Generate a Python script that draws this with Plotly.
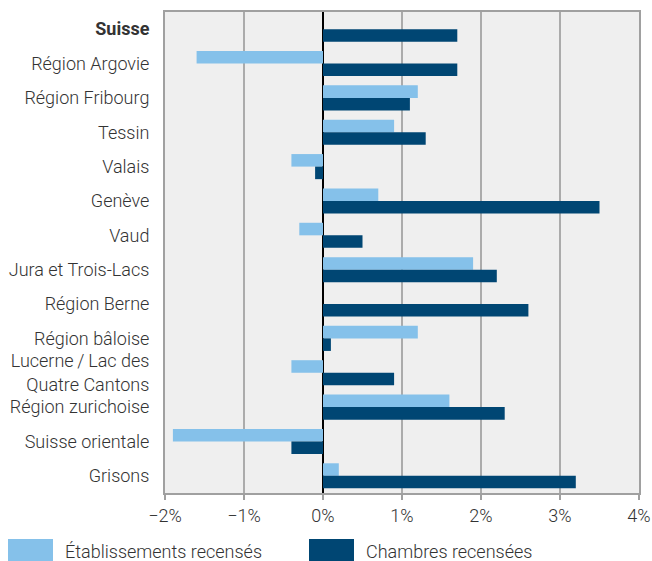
import plotly.graph_objects as go

categories = ["<b>Suisse</b>", "Région Argovie", "Région Fribourg", "Tessin", "Valais", "Genève", "Vaud",
              "Jura et Trois-Lacs", "Région Berne", "Région bâloise", "Lucerne\u2009/\u2009Lac des<br>Quatre Cantons",
              "Région zurichoise", "Suisse orientale", "Grisons"]
etablissements = [0.0, -1.6, 1.2, 0.9, -0.4, 0.7, -0.3, 1.9, 0.0, 1.2, -0.4, 1.6, -1.9, 0.2]
chambres = [1.7, 1.7, 1.1, 1.3, -0.1, 3.5, 0.5, 2.2, 2.6, 0.1, 0.9, 2.3, -0.4, 3.2]
tick_vals = [-2, -1, 0, 1, 2, 3, 4]
tick_text = ["−2%", "−1%", "0%", "1%", "2%", "3%", "4%"]
series_names = ["Établissements recensés", "Chambres recensées"]
colors = ["#85C1EA", "#004673"]

font_family = "Roboto"
text_color = "#333333"
FS = 18

W, H = 652, 561
ML, MR, MT, MB = 165, 13, 12, 68
PW, PH = W - ML - MR, H - MT - MB

fig = go.Figure()
fig.add_trace(go.Bar(y=categories, x=etablissements, orientation="h", name=series_names[0],
                     marker=dict(color=colors[0], line=dict(width=0))))
fig.add_trace(go.Bar(y=categories, x=chambres, orientation="h", name=series_names[1],
                     marker=dict(color=colors[1], line=dict(width=0))))

fig.update_layout(
    width=W, height=H,
    margin=dict(l=ML, r=MR, t=MT, b=MB, autoexpand=False),
    paper_bgcolor="white", plot_bgcolor="#EFEFEF",
    barmode="group", bargap=0.27, bargroupgap=0,
    showlegend=False,
    font=dict(family=font_family, size=FS, color=text_color, weight=300),
)
fig.update_xaxes(range=[-2, 4], tickvals=tick_vals, ticktext=tick_text, automargin=False,
                 showgrid=True, gridcolor="#ABABAB", gridwidth=2,
                 zeroline=True, zerolinecolor="#000000", zerolinewidth=2,
                 showline=True, linecolor="#A0A0A0", linewidth=2, mirror=True,
                 ticks="outside", ticklen=5, tickcolor="#A0A0A0", tickwidth=2,
                 tickfont=dict(size=FS, color=text_color))
fig.update_yaxes(autorange="reversed", showgrid=False, zeroline=False, automargin=False,
                 showline=True, linecolor="#A0A0A0", linewidth=2, mirror=True,
                 ticks="", ticklabelstandoff=10,
                 tickfont=dict(size=FS, color=text_color))

# custom legend with large swatches (pixel positions converted to paper coordinates)
legend_x = [8, 309]
for lx, name, col in zip(legend_x, series_names, colors):
    fig.add_shape(type="rect", xref="paper", yref="paper",
                  x0=(lx - ML) / PW, x1=(lx + 45 - ML) / PW,
                  y0=(H - MB - 539) / PH, y1=(H - MB - 562) / PH,
                  line=dict(width=0), fillcolor=col)
    fig.add_annotation(xref="paper", yref="paper", x=(lx + 55 - ML) / PW, y=(H - MB - 551) / PH,
                       text=name, showarrow=False, xanchor="left", yanchor="middle",
                       font=dict(size=FS, color=text_color, family=font_family, weight=300))

fig.write_html("out.html", config={"displayModeBar": False},
               post_script="document.body.style.margin='0';document.body.style.padding='0';")
